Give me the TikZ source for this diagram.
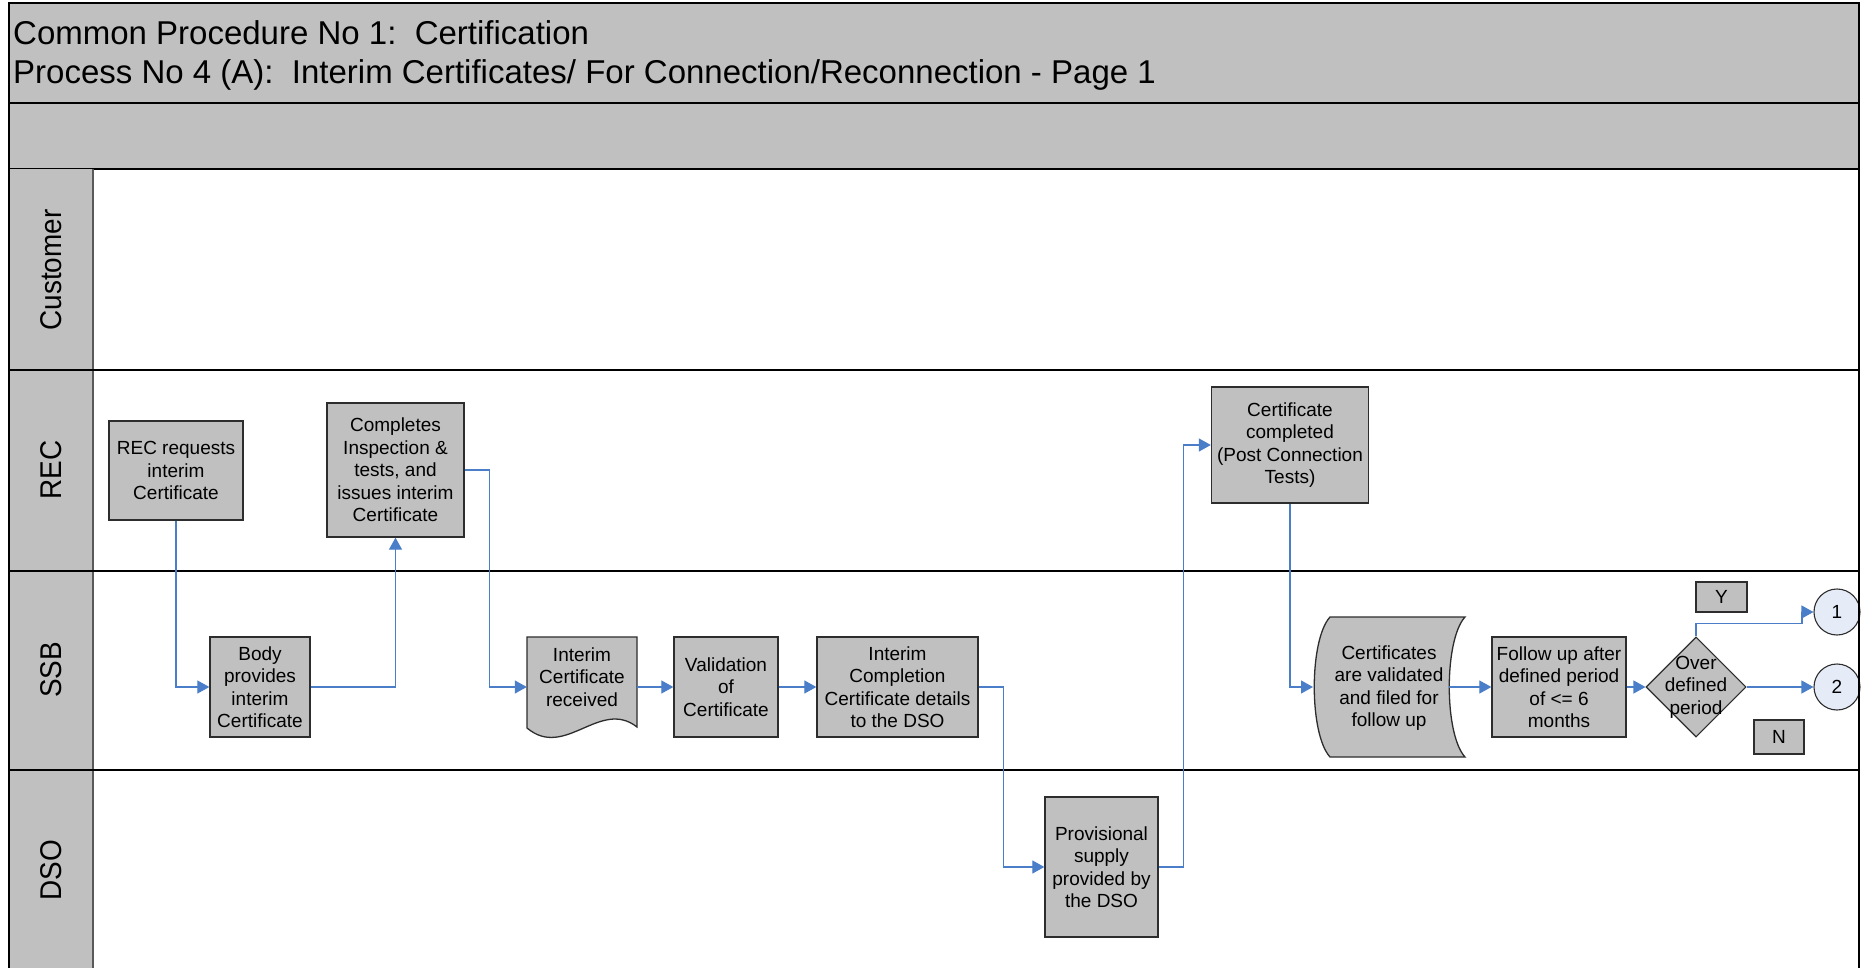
\documentclass[tikz,border=0pt]{standalone}
\usepackage{fontspec}
\setmainfont{Liberation Sans}
\usetikzlibrary{positioning,shapes,arrows.meta,calc,backgrounds}

\definecolor{boxgray}{RGB}{192,192,192}
\definecolor{edgegray}{RGB}{45,45,45}
\definecolor{flowblue}{RGB}{74,126,200}
\definecolor{connblue}{RGB}{230,236,247}

\begin{document}
\begin{tikzpicture}[x=1pt,y=-1pt,
    box/.style={draw=edgegray,fill=boxgray,line width=1.3pt,align=center,inner sep=0pt,
      font=\fontsize{19}{22.5}\selectfont},
    txt/.style={align=center,inner sep=0pt,font=\fontsize{19}{22.5}\selectfont},
    lane/.style={rotate=90,inner sep=0pt,font=\fontsize{30}{34}\selectfont},
    flow/.style={draw=flowblue,line width=1.2pt,-{Triangle[length=12pt,width=13pt]}},
    decision/.style={diamond,draw=edgegray,fill=boxgray,line width=1.1pt,inner sep=0pt,
      minimum width=100,minimum height=100},
    conn/.style={circle,draw=edgegray,fill=connblue,line width=1.1pt,inner sep=0pt,
      minimum size=46,font=\fontsize{19}{22.5}\selectfont}]
    \useasboundingbox (0,0) rectangle (1861,968);

    % glava
    \filldraw[fill=boxgray,draw=black,line width=1.5pt] (9,3) rectangle (1859,103);
    \filldraw[fill=boxgray,draw=black,line width=1.5pt] (9,103) rectangle (1859,169);
    \draw (13,33) node[anchor=west,inner sep=0pt,font=\fontsize{33}{39}\selectfont] (t1)
      {Common Procedure No 1:\ \ Certification};
    \draw (13,75) node[anchor=west,inner sep=0pt,font=\fontsize{33}{39}\selectfont] (t2)
      {Process No 4 (A):\ \ Interim Certificates/ For Connection/Reconnection - Page 1};

    % pasovi
    \fill[boxgray] (9,169) rectangle (93,975);
    \draw[gray!70!black,line width=1.5pt] (93,169) -- (93,975);
    \draw[black,line width=1.3pt] (9,370) -- (1859,370);
    \draw[black,line width=1.3pt] (9,571) -- (1859,571);
    \draw[black,line width=1.3pt] (9,770) -- (1859,770);
    \draw (51,270) node[lane] (cust) {\scalebox{0.93}[1]{Customer}};
    \draw (51,470) node[lane] (rec) {\scalebox{0.93}[1]{REC}};
    \draw (51,670) node[lane] (ssb) {\scalebox{0.93}[1]{SSB}};
    \draw (51,870) node[lane] (dso) {\scalebox{0.93}[1]{DSO}};

    % posebni liki
    \filldraw[fill=boxgray,draw=edgegray,line width=1.3pt] (527,637) -- (637,637) -- (637,727)
      .. controls (600,698) and (565,760) .. (527,728) -- cycle;
    \filldraw[fill=boxgray,draw=edgegray,line width=1.3pt] (1330,617) -- (1465,617)
      .. controls (1444,640) and (1444,734) .. (1465,757) -- (1330,757)
      .. controls (1309,734) and (1309,640) .. (1330,617) -- cycle;
    \coordinate (cvin) at (1313,687);
    \coordinate (cvout) at (1449,687);

    % koraki
    \node[box,minimum width=134,minimum height=99] (req) at (176,470.5)
      {REC requests\\interim\\Certificate};
    \node[box,minimum width=137,minimum height=134] (insp) at (395.5,470)
      {Completes\\Inspection \&\\tests, and\\issues interim\\Certificate};
    \node[box,minimum width=100,minimum height=100] (body) at (260,687)
      {Body\\provides\\interim\\Certificate};
    \node[inner sep=0pt,minimum width=110,minimum height=100] (recv) at (582,687) {};
    \node[txt] (recvt) at (582,677) {Interim\\Certificate\\received};
    \node[box,minimum width=104,minimum height=100] (valid) at (726,687)
      {Validation\\of\\Certificate};
    \node[box,minimum width=161,minimum height=100] (icc) at (897.5,687)
      {Interim\\Completion\\Certificate details\\to the DSO};
    \node[box,minimum width=113,minimum height=140] (prov) at (1101.5,867)
      {Provisional\\supply\\provided by\\the DSO};
    \node[box,minimum width=157,minimum height=116] (cdone) at (1290,445)
      {Certificate\\completed\\(Post Connection\\Tests)};
    \node[txt] (cval) at (1389,688) {Certificates\\are validated\\and filed for\\follow up};
    \node[box,minimum width=134,minimum height=100] (follow) at (1559,687)
      {Follow up after\\defined period\\of <= 6\\months};
    \node[decision,label={[txt]center:{Over\\defined\\period}}] (over) at (1696,687) {};
    \node[box,line width=1.1pt,minimum width=51,minimum height=30] (yes) at (1721.5,597) {Y};
    \node[box,line width=1.1pt,minimum width=50,minimum height=34] (no) at (1779,737) {N};
    \node[conn] (c1) at (1837,612) {1};
    \node[conn] (c2) at (1837,687) {2};

    % povezave
    \draw[flow] (req.south) |- (body.west);
    \draw[flow] (body.east) -| (insp.south);
    \draw[flow] (insp.east) -- ++(25,0) |- (recv.west);
    \draw[flow] (recv.east) -- (valid.west);
    \draw[flow] (valid.east) -- (icc.west);
    \draw[flow] (icc.east) -- ++(25,0) |- (prov.west);
    \draw[flow] (prov.east) -- ++(25,0) |- (cdone.west);
    \draw[flow] (cdone.south) |- (cvin);
    \draw[flow] (cvout) -- (follow.west);
    \draw[flow] (follow.east) -- (over.west);
    \draw[flow] (over.north) |- ++(106,-13) |- (c1.west);
    \draw[flow] (over.east) -- (c2.west);

    % okvir
    \draw[black,line width=1.5pt] (9,3) rectangle (1859,975);
  \end{tikzpicture}
\end{document}
